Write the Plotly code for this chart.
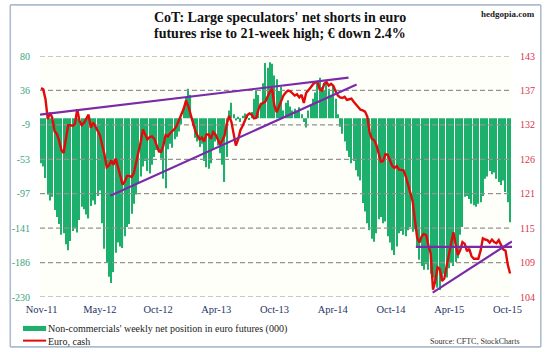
import pandas as pd
import plotly.graph_objects as go

# ---------------- data ----------------
start_date = "2011-11-01"          # first weekly observation
n_weeks = 208

net_position = [
    -58, -62, -77, -98, -106, -101, -118, -127, -136, -150,
    -148, -162, -170, -158, -145, -141, -147, -131, -114, -117,
    -124, -129, -113, -106, -111, -100, -93, -135, -168, -185,
    -204, -212, -198, -173, -160, -165, -167, -152, -140, -136,
    -123, -110, -98, -84, -75, -62, -55, -68, -71, -60,
    -50, -41, -44, -52, -78, -90, -40, -33, -38, -27,
    -24, -17, -8, 12, 27, 38, 30, -10, -25, -30,
    -37, -33, -55, -63, -65, -58, -40, -30, -35, -45,
    -60, -82, -50, 10, 20, 5, -3, 2, -5, 3,
    6, 4, -2, 8, 25, 36, 30, 20, 45, 71,
    65, 72, 70, 55, 50, 35, 40, 10, 20, 23,
    15, 10, 12, 8, 14, 5, -5, -12, 10, 18,
    25, 33, 45, 52, 40, 35, 45, 38, 30, 42,
    25, 5, -11, -20, -30, -42, -50, -58, -55, -67,
    -75, -80, -109, -120, -135, -144, -155, -159, -148, -130,
    -127, -135, -133, -152, -160, -170, -176, -165, -148, -145,
    -150, -152, -144, -140, -146, -143, -165, -182, -190, -195,
    -188, -195, -200, -205, -210, -218, -221, -208, -200, -205,
    -193, -186, -190, -185, -180, -150, -140, -101, -100, -104,
    -110, -112, -114, -110, -108, -100, -78, -75, -68, -72,
    -70, -78, -82, -86, -80, -95, -108, -134,
]

euro_cash = [
    137.8, 137.6, 136.0, 132.8, 133.8, 133.0, 130.8, 130.4, 129.3, 127.8,
    127.3, 129.8, 131.8, 131.8, 131.7, 132.0, 134.4, 132.5, 131.8, 132.2,
    132.9, 133.5, 131.4, 132.2, 131.6, 131.0, 130.2, 128.6, 127.1, 125.0,
    125.3, 126.1, 125.4, 126.4, 124.9, 123.2, 122.2, 122.7, 123.6, 123.6,
    123.4, 124.1, 125.7, 127.0, 129.1, 131.1, 130.3, 129.5, 129.9, 130.0,
    129.6, 128.6, 127.6, 127.5, 128.5, 130.2, 130.0, 130.5, 130.8, 131.2,
    131.8, 132.7, 133.8, 134.5, 135.8, 134.9, 133.6, 132.3, 131.0, 130.2,
    129.5, 129.8, 129.2, 130.3, 130.3, 129.6, 130.7, 130.3, 129.5, 128.7,
    129.3, 130.1, 132.0, 133.3, 132.4, 130.2, 128.5, 129.5, 131.0, 131.7,
    132.7, 133.4, 133.7, 133.5, 132.9, 133.0, 134.4, 135.2, 135.4, 135.6,
    136.4, 137.2, 137.7, 135.0, 133.9, 134.8, 135.8, 136.6, 137.1, 137.4,
    137.3, 137.0, 136.6, 136.8, 136.3, 136.7, 135.4, 137.0, 137.4, 137.9,
    138.4, 138.7, 138.8, 137.6, 137.4, 138.5, 138.8, 138.2, 138.5, 138.2,
    137.3, 136.6, 136.3, 136.2, 136.4, 135.9, 136.0, 136.1, 135.6, 135.1,
    134.7, 134.3, 134.2, 134.0, 133.2, 130.7, 129.6, 129.4, 128.6, 127.3,
    125.9, 126.0, 127.1, 127.0, 126.1, 125.2, 124.9, 125.2, 124.6, 124.6,
    124.5, 123.5, 122.2, 121.0, 119.5, 116.5, 113.6, 112.8, 113.8, 114.2,
    114.0, 112.3, 111.0, 105.2, 106.6, 108.8, 108.5, 106.6, 107.0, 109.0,
    110.8, 113.0, 114.5, 112.5, 110.8, 111.6, 112.9, 112.6, 111.4, 111.8,
    110.6, 110.2, 110.2, 110.2, 111.5, 113.5, 113.3, 113.2, 112.8, 113.3,
    112.9, 112.7, 113.2, 112.4, 111.7, 111.5, 109.2, 107.8,
]

# purple trend lines drawn on the euro: (start date, start value, end date, end value)
trend_lines = [
    ("2011-10-29", 133.5, "2014-06-08", 139.5),
    ("2012-06-02", 120.4, "2014-07-03", 138.4),
    ("2015-01-02", 112.1, "2015-10-26", 112.1),
    ("2015-02-23", 104.7, "2015-10-26", 113.0),
]

x_tick_labels = ["Nov-11", "May-12", "Oct-12", "Apr-13", "Oct-13",
                 "Apr-14", "Oct-14", "Apr-15", "Oct-15"]
left_tick_labels = ["80", "36", "-9", "-53", "-97", "-141", "-186", "-230"]
right_tick_labels = ["143", "137", "132", "126", "121", "115", "109", "104"]

left_range = [-230, 80]
right_range = [104, 143]
x_range = ["2011-10-29", "2015-10-26"]

title_line1 = "CoT: Large speculators' net shorts in euro"
title_line2 = "futures rise to 21-week high; \u20ac down 2.4%"
legend_bar = "Non-commercials' weekly net position in euro futures (000)"
legend_line = "Euro, cash"
source_text = "Source: CFTC, StockCharts"
site_text = "hedgopia.com"

# ---------------- styling ----------------
SERIF = "Liberation Serif"
GREEN = "#1cb06c"
RED = "#e20a0a"
PURPLE = "#7a2aa8"

dates = pd.date_range(start_date, periods=n_weeks, freq="7D")

fig = go.Figure()

# dashed horizontal gridlines drawn as a trace behind everything
n_l = len(left_tick_labels)
left_vals = [left_range[1] - i * (left_range[1] - left_range[0]) / (n_l - 1) for i in range(n_l)]
grid_x, grid_y = [], []
for v in left_vals:
    grid_x += [x_range[0], x_range[1], None]
    grid_y += [v, v, None]
fig.add_trace(go.Scatter(
    x=grid_x, y=grid_y, mode="lines", yaxis="y", showlegend=False,
    hoverinfo="skip", cliponaxis=False,
    line=dict(color="#929292", width=1.2, dash="5px,3px"),
))

fig.add_trace(go.Bar(
    x=dates, y=net_position, name=legend_bar,
    marker=dict(color=GREEN, line=dict(width=0)),
    yaxis="y", showlegend=False,
))
fig.add_trace(go.Scatter(
    x=dates, y=euro_cash, name=legend_line, mode="lines",
    line=dict(color=RED, width=2.4), yaxis="y2", showlegend=False,
))
for (d0, v0, d1, v1) in trend_lines:
    fig.add_trace(go.Scatter(
        x=[d0, d1], y=[v0, v1], mode="lines",
        line=dict(color=PURPLE, width=2.2), yaxis="y2",
        showlegend=False, hoverinfo="skip",
    ))

n_r = len(right_tick_labels)
right_vals = [right_range[1] - i * (right_range[1] - right_range[0]) / (n_r - 1) for i in range(n_r)]
tick_dates = pd.date_range("2011-11-03", "2015-10-12", periods=len(x_tick_labels))

fig.update_layout(
    width=547, height=352,
    margin=dict(l=35, r=35, t=56, b=55, pad=0),
    paper_bgcolor="white",
    plot_bgcolor="#fffffa",
    bargap=0.5,
    font=dict(family=SERIF, size=10, color="#222"),
    xaxis=dict(
        range=x_range,
        tickvals=tick_dates, ticktext=x_tick_labels,
        showgrid=False, zeroline=False, showline=False, ticks="",
        tickfont=dict(family=SERIF, size=10.5, color="#1f3466"),
        ticklabelstandoff=4,
    ),
    yaxis=dict(
        range=left_range, tickvals=left_vals, ticktext=left_tick_labels,
        showgrid=False, zeroline=False, showline=False, ticks="",
        tickfont=dict(family=SERIF, size=10, color="#3aa57c"),
        ticklabelstandoff=9,
    ),
    yaxis2=dict(
        range=right_range, tickvals=right_vals, ticktext=right_tick_labels,
        overlaying="y", side="right", showgrid=False, zeroline=False,
        showline=False, ticks="",
        tickfont=dict(family=SERIF, size=10, color="#d8344a"),
        ticklabelstandoff=7,
    ),
)

# outer frame (four solid edges)
frame = dict(color="#aebccd", width=1.6)
fx0, fx1, fy0, fy1 = -0.063, 1.061, -0.207, 1.212
for (a, b, c, d) in [(fx0, fy0, fx1, fy0), (fx0, fy1, fx1, fy1),
                     (fx0, fy0, fx0, fy1), (fx1, fy0, fx1, fy1)]:
    fig.add_shape(type="line", xref="paper", yref="paper",
                  x0=a, y0=b, x1=c, y1=d, line=frame)

# title
fig.add_annotation(text="<b>" + title_line1 + "</b>", xref="paper", yref="paper",
                   x=0.509, y=1.160, xanchor="center", yanchor="middle", showarrow=False,
                   font=dict(family=SERIF, size=14, color="#111"))
fig.add_annotation(text="<b>" + title_line2 + "</b>", xref="paper", yref="paper",
                   x=0.509, y=1.095, xanchor="center", yanchor="middle", showarrow=False,
                   font=dict(family=SERIF, size=14, color="#111"))
fig.add_annotation(text="<b>" + site_text + "</b>", xref="paper", yref="paper",
                   x=1.052, y=1.174, xanchor="right", yanchor="middle", showarrow=False,
                   font=dict(family=SERIF, size=9, color="#222"))

# legend (drawn manually)
fig.add_shape(type="rect", xref="paper", yref="paper",
              x0=-0.036, x1=0.013, y0=-0.141, y1=-0.120,
              line=dict(width=0), fillcolor=GREEN)
fig.add_shape(type="line", xref="paper", yref="paper",
              x0=-0.036, x1=0.013, y0=-0.181, y1=-0.181,
              line=dict(color=RED, width=2))
fig.add_annotation(text=legend_bar, xref="paper", yref="paper",
                   x=0.013, y=-0.131, xanchor="left", yanchor="middle", showarrow=False,
                   font=dict(family=SERIF, size=10, color="#222"))
fig.add_annotation(text=legend_line, xref="paper", yref="paper",
                   x=0.013, y=-0.183, xanchor="left", yanchor="middle", showarrow=False,
                   font=dict(family=SERIF, size=10, color="#222"))
fig.add_annotation(text=source_text, xref="paper", yref="paper",
                   x=1.021, y=-0.183, xanchor="right", yanchor="middle", showarrow=False,
                   font=dict(family=SERIF, size=8, color="#333"))

fig.write_html("out.html")
